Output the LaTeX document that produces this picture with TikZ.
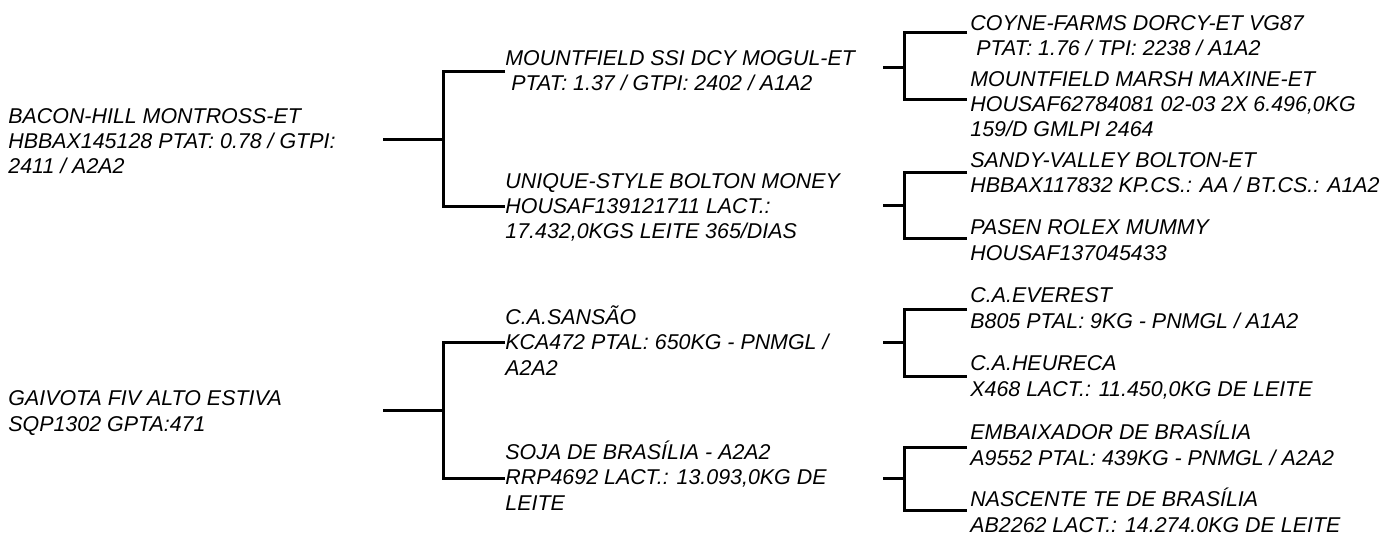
\documentclass[tikz,border=0pt]{standalone}
\usepackage{fontspec}
\setmainfont{Liberation Sans}
\begin{document}
\begin{tikzpicture}[x=0.5pt, y=-0.5pt,
    animal/.style={anchor=base west, align=left, inner sep=0pt,
        font=\fontsize{10.7}{12.6}\selectfont\itshape},
    link/.style={line width=1.5pt}]
    \useasboundingbox (0,0) rectangle (1385,534);

    % first generation (placed at the baseline of the last line)
    \node[animal] (bacon) at (8,174) {BACON-HILL MONTROSS-ET\\HBBAX145128 PTAT: 0.78 / GTPI:\\2411 / A2A2};
    \node[animal] (gaivota) at (8,431) {GAIVOTA FIV ALTO ESTIVA\\SQP1302 GPTA:471};

    % second generation
    \node[animal] (mogul) at (505,91) {MOUNTFIELD SSI DCY MOGUL-ET\\\ PTAT: 1.37 / GTPI: 2402 / A1A2};
    \node[animal] (money) at (505,239) {UNIQUE-STYLE BOLTON MONEY\\HOUSAF139121711 LACT.:\\17.432,0KGS LEITE 365/DIAS};
    \node[animal] (sansao) at (505,375) {C.A.SANSÃO\\KCA472 PTAL: 650KG - PNMGL /\\A2A2};
    \node[animal] (soja) at (505,510) {SOJA DE BRASÍLIA - A2A2\\RRP4692 LACT.: 13.093,0KG DE\\LEITE};

    % third generation
    \node[animal] (dorcy) at (970,56) {COYNE-FARMS DORCY-ET VG87\\\ PTAT: 1.76 / TPI: 2238 / A1A2};
    \node[animal] (maxine) at (970,137) {MOUNTFIELD MARSH MAXINE-ET\\HOUSAF62784081 02-03 2X 6.496,0KG\\159/D GMLPI 2464};
    \node[animal] (bolton) at (970,193) {SANDY-VALLEY BOLTON-ET\\HBBAX117832 KP.CS.: AA / BT.CS.: A1A2};
    \node[animal] (mummy) at (970,260) {PASEN ROLEX MUMMY\\HOUSAF137045433};
    \node[animal] (everest) at (970,328) {C.A.EVEREST\\B805 PTAL: 9KG - PNMGL / A1A2};
    \node[animal] (heureca) at (970,396) {C.A.HEURECA\\X468 LACT.: 11.450,0KG DE LEITE};
    \node[animal] (embaixador) at (970,465) {EMBAIXADOR DE BRASÍLIA\\A9552 PTAL: 439KG - PNMGL / A2A2};
    \node[animal] (nascente) at (970,532) {NASCENTE TE DE BRASÍLIA\\AB2262 LACT.: 14.274.0KG DE LEITE};

    % brackets, first to second generation
    \coordinate (bacon-s) at (383,139.5);
    \coordinate (bacon-j) at (443,139.5);
    \coordinate (mogul-e) at (505,72);
    \coordinate (money-e) at (505,207);
    \draw[link] (bacon-s) -- (bacon-j);
    \draw[link] (mogul-e) -| (bacon-j) |- (money-e);

    \coordinate (gaivota-s) at (383,410);
    \coordinate (gaivota-j) at (443,410);
    \coordinate (sansao-e) at (505,342);
    \coordinate (soja-e) at (505,478);
    \draw[link] (gaivota-s) -- (gaivota-j);
    \draw[link] (sansao-e) -| (gaivota-j) |- (soja-e);

    % brackets, second to third generation
    \coordinate (mogul-s) at (883,68);
    \coordinate (mogul-j) at (904,68);
    \coordinate (dorcy-e) at (967,33);
    \coordinate (maxine-e) at (967,100);
    \draw[link] (mogul-s) -- (mogul-j);
    \draw[link] (dorcy-e) -| (mogul-j) |- (maxine-e);

    \coordinate (money-s) at (883,206);
    \coordinate (money-j) at (904,206);
    \coordinate (bolton-e) at (967,173);
    \coordinate (mummy-e) at (967,238);
    \draw[link] (money-s) -- (money-j);
    \draw[link] (bolton-e) -| (money-j) |- (mummy-e);

    \coordinate (sansao-s) at (883,342);
    \coordinate (sansao-j) at (904,342);
    \coordinate (everest-e) at (967,309);
    \coordinate (heureca-e) at (967,376);
    \draw[link] (sansao-s) -- (sansao-j);
    \draw[link] (everest-e) -| (sansao-j) |- (heureca-e);

    \coordinate (soja-s) at (883,478);
    \coordinate (soja-j) at (904,478);
    \coordinate (embaixador-e) at (967,447);
    \coordinate (nascente-e) at (967,510);
    \draw[link] (soja-s) -- (soja-j);
    \draw[link] (embaixador-e) -| (soja-j) |- (nascente-e);
\end{tikzpicture}
\end{document}
